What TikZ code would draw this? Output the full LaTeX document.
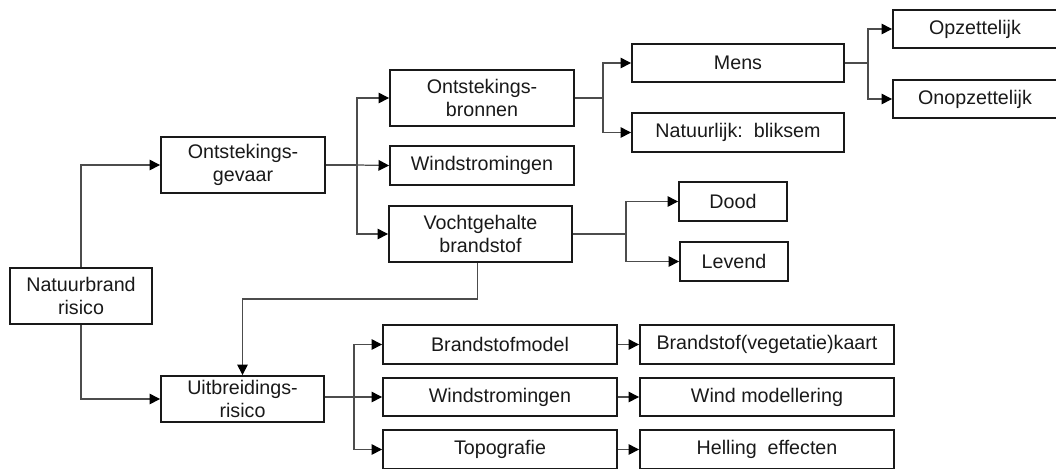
\documentclass[tikz,border=0pt]{standalone}
\usepackage{fontspec}
\setmainfont{Liberation Sans}
\usetikzlibrary{arrows.meta}
\begin{document}
\begin{tikzpicture}[x=0.02cm,y=-0.02cm,
  box/.style 2 args={draw=black!90, line width=1.05pt, inner sep=0pt, align=center,
    minimum width=#1*0.02cm, minimum height=#2*0.02cm,
    font=\fontsize{11.2}{12.8}\selectfont, text=black!90},
  conn/.style={draw=black!70, line width=0.7pt},
  arr/.style={conn, -{Triangle[length=6pt,width=6pt,fill=black,color=black]}}]
\useasboundingbox (0,0) rectangle (1056,468);
% nodes
\node[box={142}{56}] (nat) at (81,296) {Natuurbrand\\risico};
\node[box={164}{56}] (og) at (243,165) {Ontstekings-\\gevaar};
\node[box={163}{46}] (ub) at (242.5,399) {Uitbreidings-\\risico};
\node[box={184}{56}] (ob) at (482,98) {Ontstekings-\\bronnen};
\node[box={184}{39}] (ws1) at (482,165.5) {Windstromingen};
\node[box={183}{56}] (vg) at (480.5,234) {Vochtgehalte\\brandstof};
\node[box={212}{38}] (mens) at (738,63) {Mens};
\node[box={212}{39}] (natl) at (738,132.5) {Natuurlijk:\ \ bliksem};
\node[box={164}{38}] (opz) at (975,29) {Opzettelijk};
\node[box={164}{38}] (onopz) at (975,99) {Onopzettelijk};
\node[box={108}{39}] (dood) at (733,201.5) {Dood};
\node[box={108}{39}] (lev) at (734,261.5) {Levend};
\node[box={234}{39}] (bm) at (500,344.5) {Brandstofmodel};
\node[box={234}{38}] (ws2) at (500,397) {Windstromingen};
\node[box={234}{39}] (topo) at (500,449.5) {Topografie};
\node[box={254}{39}] (bvk) at (767,344.5) {Brandstof(vegetatie)kaart};
\node[box={254}{38}] (wm) at (767,397) {Wind modellering};
\node[box={254}{39}] (he) at (767,449.5) {Helling\ \ effecten};
% junction coordinates
\coordinate (j1) at (357,165);
\coordinate (j2) at (603,98);
\coordinate (j3) at (868,63);
\coordinate (j4) at (626,234);
\coordinate (j5) at (354,397);
\coordinate (turn) at (242.5,299);
% connectors
\draw[arr] (nat.north) |- (og.west);
\draw[arr] (nat.south) |- (ub.west);
\draw[conn] (og.east) -- (j1);
\draw[arr] (j1) |- (ob.west);
\draw[arr] (j1) -- (ws1.west);
\draw[arr] (j1) |- (vg.west);
\draw[conn] (ob.east) -- (j2);
\draw[arr] (j2) |- (mens.west);
\draw[arr] (j2) |- (natl.west);
\draw[conn] (mens.east) -- (j3);
\draw[arr] (j3) |- (opz.west);
\draw[arr] (j3) |- (onopz.west);
\draw[conn] (vg.east) -- (j4);
\draw[arr] (j4) |- (dood.west);
\draw[arr] (j4) |- (lev.west);
\draw[arr] ([xshift=-3*0.02cm]vg.south) |- (turn) -- (ub.north);
\draw[conn] (ub.east |- j5) -- (j5);
\draw[arr] (j5) |- (bm.west);
\draw[arr] (j5) -- (ws2.west);
\draw[arr] (j5) |- (topo.west);
\draw[arr] (bm.east) -- (bvk.west);
\draw[arr] (ws2.east) -- (wm.west);
\draw[arr] (topo.east) -- (he.west);
\end{tikzpicture}
\end{document}
